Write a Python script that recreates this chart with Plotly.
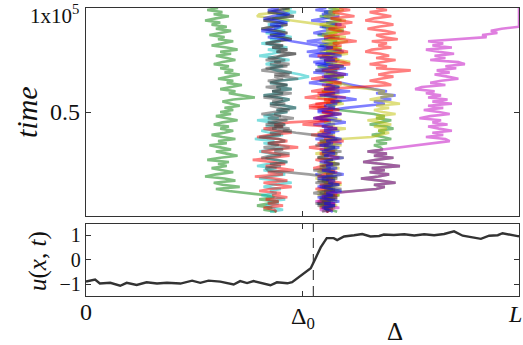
import plotly.graph_objects as go

# ---------------------------------------------------------------------------
# Walker paths.  Each walker is a list of segments (t_start, positions):
# positions are in percent of L, sampled every 1 time unit (x10^3) going
# down from t_start.  Consecutive segments are joined by the long jumps.
# ---------------------------------------------------------------------------
G1_WALK = [30.5, 28.0, 31.5, 29.5, 33.0, 30.0, 27.5, 31.0, 29.0, 32.5,
           30.0, 33.5, 31.0, 28.5, 32.0, 30.5, 34.0, 31.5, 29.0, 32.5,
           35.0, 31.0, 33.5, 30.0, 32.5, 34.5, 31.5, 29.5, 33.0, 31.0,
           34.0, 32.0, 35.5, 33.0, 30.5, 34.0, 32.5, 36.0, 33.5, 31.0,
           34.5, 33.0, 36.0, 39.0, 34.0, 31.5, 33.5, 35.5, 32.0, 34.0,
           31.0, 33.5, 30.0, 32.5, 35.0, 31.5, 29.5, 33.0, 31.0, 34.0,
           32.0, 29.0, 31.5, 34.5, 30.5, 32.5, 28.5, 31.0, 33.5, 30.0,
           32.5, 35.0, 31.0, 28.0, 33.0, 30.5, 32.5, 29.0, 31.5, 34.0,
           30.0, 27.5, 32.0, 34.5, 29.5, 31.5, 35.5, 30.0, 33.0]
G1_JOIN = [41.5, 43.5, 40.0, 44.5, 42.0, 39.5, 43.0, 41.0, 44.0]

B1_LEFT = [44.5, 42.0, 45.5, 47.0, 43.0, 41.0, 44.5, 46.5, 42.5, 45.0,
           43.5, 40.5, 44.0, 46.0, 42.0, 45.5, 47.5]
B1_MID = [53.5, 57.0, 55.0, 51.0, 56.5, 59.0, 54.0, 57.5, 52.5, 55.5,
          59.5, 56.0, 53.0, 57.5, 60.5, 55.0, 58.0, 54.5, 51.5, 56.0,
          58.5, 55.0, 61.0, 57.0, 54.0, 59.5, 62.5, 56.5, 58.0, 55.0,
          57.5, 53.5, 56.0, 59.0, 55.5, 52.5, 57.0, 60.0, 56.0, 54.5,
          58.0, 55.0, 57.5, 53.5, 56.5, 59.0, 55.5, 57.0, 54.0, 58.5,
          56.0, 54.5, 57.5, 55.0, 59.5, 56.5, 54.0, 57.0, 55.5, 58.0,
          54.5, 57.0, 59.5, 55.5, 53.5, 57.5, 56.0, 58.5, 54.0, 56.5,
          59.0, 55.5, 57.0, 53.5, 56.0, 58.5, 55.0, 57.5, 54.5, 56.0,
          57.0]

R1_RIGHT = [67.0, 69.5, 65.5, 68.0, 70.5, 66.5, 64.5, 68.5, 71.0, 67.5,
            65.0, 69.0, 71.5, 67.0, 68.5, 72.0, 66.0, 69.5, 67.5, 70.5,
            66.0, 64.5, 68.0, 70.0, 67.0, 71.5, 68.5, 65.5, 69.5, 67.0,
            75.0, 70.0, 67.5, 71.0, 68.0, 65.5, 69.0, 70.5]
R1_MID = [55.0, 52.0, 57.5, 54.0, 50.5, 56.0, 58.5, 53.0, 55.5, 51.5,
          57.0, 54.5, 59.0, 55.0, 52.5, 56.5, 53.5, 50.0, 55.5, 58.0,
          54.0, 56.5, 52.0, 57.5, 55.0, 59.5, 53.5, 56.0, 51.5, 55.0,
          57.5, 54.0, 56.5, 58.5, 53.0, 55.5, 57.0, 54.5, 52.5, 56.0,
          58.0, 55.0, 53.5, 57.0, 55.5, 59.0, 54.0, 56.5, 53.0, 57.5,
          55.0, 58.0, 54.5, 56.0, 53.5, 57.5, 55.5, 54.0, 57.0, 55.5]

K1_LEFT = [47.0, 44.5, 42.0, 45.5, 48.0, 43.5, 41.0, 44.5, 46.5, 43.0,
           40.5, 44.0, 46.5, 42.5, 45.0, 47.5, 44.0, 41.5, 45.5, 43.0,
           46.5, 44.0, 48.5, 45.0, 42.0, 46.0, 43.5, 47.0, 44.5, 41.5,
           45.0, 47.5, 43.5, 46.0, 49.0, 44.5, 42.5, 46.5, 44.0, 47.5,
           43.0, 45.5, 41.0, 44.5, 47.0, 45.0, 42.5, 46.0, 48.5, 44.0,
           46.5, 43.5, 45.0, 48.0, 44.5, 42.0, 46.0, 43.5, 47.0, 45.5,
           48.5]
K1_MID = [52.5, 55.5, 58.0, 54.0, 56.5, 53.0, 57.5, 55.0, 59.0, 54.5,
          56.0, 53.5, 57.0, 55.0, 58.5, 54.0, 56.5, 52.5, 57.5, 55.5,
          58.0, 54.5, 56.0, 53.0, 57.0, 55.0, 59.0, 56.0, 54.0, 57.5,
          55.0, 58.0, 54.5, 56.5, 53.5, 57.0, 55.5, 56.0]

C1_TOP = [47.5, 45.5, 48.5, 44.0, 46.5, 43.0, 47.0, 44.5, 42.0, 45.5,
          43.5, 46.0, 41.5, 44.5, 47.5, 42.5, 45.0, 40.5, 44.0, 46.5,
          42.0, 45.0, 43.0, 40.0, 44.5, 47.0, 43.0, 41.5, 45.5, 42.5,
          44.0, 47.0, 49.5, 51.5]
C1_BOTTOM = [43.5, 41.0, 44.5, 39.5, 43.0, 46.0, 41.5, 44.0, 40.5, 42.5,
             45.5, 42.0, 39.0, 43.5, 41.0, 44.5, 47.0, 42.5, 40.0, 43.0,
             45.0, 41.5, 43.5, 46.5, 42.0, 39.5, 44.0, 41.0, 43.5, 46.0,
             42.5, 40.0, 44.5, 47.5, 43.0, 41.0, 45.0, 42.5, 44.0, 40.5,
             43.5, 46.0, 42.0, 44.5, 41.5, 43.0, 45.5, 42.5]
# cyan and dark-grey walkers travel together for t = 66 ... 50
C1 = C1_TOP + K1_LEFT[34:51] + C1_BOTTOM

K2_LEFT = [44.0, 41.5, 45.0, 42.5, 46.5, 43.0, 40.5, 44.5, 47.0, 43.5,
           45.5, 42.0, 44.0, 46.5, 41.5, 45.0, 43.0, 47.5, 44.0, 41.0,
           45.5, 43.0, 46.0, 42.5, 44.5, 47.0, 43.5, 40.5, 45.0, 42.0,
           46.5, 44.0, 41.5, 45.5, 43.0, 47.5, 42.5, 45.0, 40.0, 44.5,
           46.0, 42.0, 44.5, 41.0, 45.5, 43.5, 47.0, 42.5, 40.5, 44.0,
           46.5, 42.5, 45.0, 41.5, 42.0]
K2_MID = [51.5, 55.0, 57.5, 53.5, 56.0, 58.5, 54.5, 57.0, 55.0, 52.5,
          56.5, 58.0, 54.0, 56.5, 53.0, 57.5, 55.0, 56.0, 54.5]

M1_EDGE = [100.0] * 10
M1_TOP = [96.0, 93.5, 95.0, 91.5, 92.5]
M1_WALK = [79.0, 82.5, 80.0, 84.5, 78.5, 81.5, 85.0, 80.5, 83.0, 79.5,
           86.0, 87.5, 83.0, 85.5, 81.0, 84.0, 80.5, 83.5, 86.0, 82.0,
           79.5, 83.0, 77.5, 76.0, 80.5, 78.5, 82.0, 79.0, 83.5, 80.0,
           84.5, 79.0, 82.5, 78.0, 81.5, 84.0, 79.5, 77.0, 82.0, 80.0,
           83.5, 79.0, 81.5, 84.5, 80.0, 82.5, 78.5, 83.0, 84.0]
# magenta and second green walkers move together for t = 32 ... 13
PM_SHARED = [68.5, 65.0, 69.5, 66.5, 71.0, 67.0, 64.0, 68.5, 72.5, 66.0,
             69.0, 65.5, 70.0, 67.5, 63.5, 68.0, 71.5, 66.5, 69.0, 67.0]
M1_MID = [57.0, 54.5, 58.0, 55.5, 53.0, 57.5, 55.0, 58.5, 54.0, 56.0]

Y1_TOP = [46.0, 47.0, 45.5, 40.0, 39.5, 44.0, 47.5]
Y1_MID = [54.5, 57.0, 59.5, 55.5, 58.0, 56.0, 60.0, 57.0, 54.5, 58.5,
          56.0, 59.0, 55.0, 57.5, 60.5, 56.5, 54.0, 58.0, 55.5, 57.0,
          59.5, 55.5, 53.0, 57.5, 55.0, 58.5, 56.0, 54.0, 57.5, 59.0,
          55.0, 57.5, 54.5, 58.5, 56.0, 53.5, 57.0, 55.0, 59.5, 56.0,
          53.5, 57.0, 55.5, 58.5, 54.0, 56.5, 59.0, 55.0, 57.5, 54.5,
          60.0, 56.0, 53.5, 57.5, 55.5, 58.5, 54.0, 56.5, 59.0, 55.0,
          57.5, 54.5, 58.0, 56.0, 53.5, 57.0, 55.5, 58.5, 56.0, 54.0,
          57.0, 55.0, 59.0, 56.5, 53.0, 57.5, 55.0, 58.0, 54.5, 56.5,
          58.5, 55.5, 53.5, 57.0, 55.0, 58.0, 56.5, 54.0, 57.5, 55.5,
          56.0]

B2_MID = [55.5, 53.0, 57.0, 54.5, 58.5, 55.0, 52.0, 56.5, 59.0, 54.0,
          57.5, 55.0, 52.5, 56.0, 58.5, 54.5, 51.0, 55.5, 58.0, 53.5,
          56.5, 59.5, 54.0, 51.5, 57.0, 55.0, 58.0, 53.0, 56.0, 60.0,
          55.5, 52.5, 57.5, 54.5, 58.5, 56.0, 59.0, 61.5]
B2_RIGHT = [66.5, 69.5, 67.0, 71.5, 68.0, 70.5, 66.5, 69.0]
B2_BACK = [60.0, 56.5, 53.5, 57.5, 55.0, 58.0, 54.0, 56.5, 52.5, 57.0,
           55.0, 58.5, 54.5, 57.0, 55.5, 53.0, 56.5, 59.0, 55.0, 57.5,
           54.0, 56.5, 58.0, 55.0, 53.5, 57.0, 55.5, 58.5, 54.5, 56.0,
           57.5, 55.0, 53.0, 56.5, 58.0, 54.5, 57.0, 55.5, 53.5, 57.5,
           55.0, 58.0, 56.0, 54.0, 57.5, 55.5, 53.5, 57.0, 55.0, 56.5,
           55.5]

Y2_MID = [57.0, 59.5, 56.0, 58.5, 55.0, 57.5, 60.0, 56.5, 54.0, 58.0,
          55.5, 59.0, 57.0, 54.5, 58.5, 56.0, 60.5, 57.5, 55.0, 58.0,
          56.5, 54.0, 59.0, 57.0, 55.5, 58.5, 61.0, 56.5, 59.5, 57.0,
          54.5, 58.0, 56.0, 59.5, 57.0, 55.5, 58.5, 60.0, 61.5]
Y2_RIGHT = [66.0, 69.0, 67.5, 71.0, 68.0, 65.5, 69.5, 72.5, 67.0, 70.0,
            66.5, 68.5, 71.5, 67.0, 69.0, 65.0, 68.0, 70.5, 66.5, 69.5,
            67.5, 70.0, 68.0, 66.0]
Y2_BACK = [59.0, 56.5, 54.0, 57.5, 55.0, 58.0, 55.5, 53.0, 57.0, 59.5,
           55.5, 57.5, 54.0, 56.5, 58.5, 55.0, 53.5, 57.0, 55.5, 58.0,
           54.5, 56.5, 59.0, 55.0, 57.5, 53.5, 56.0, 58.5, 55.5, 54.0,
           57.0, 55.0, 58.0, 54.5, 56.5, 55.5]

G2_MID = [56.0, 58.5, 55.0, 57.5, 54.0, 56.5, 59.0, 55.5, 58.0, 54.5,
          57.0, 59.5, 56.0, 53.5, 57.5, 55.0, 58.0, 56.5, 54.0, 57.0,
          59.0, 55.5, 57.5, 54.5, 56.5, 58.5, 55.0, 57.0, 53.5, 56.0,
          58.0, 55.5, 57.5, 59.5, 56.0, 54.0, 57.0, 55.5, 58.5, 56.5,
          54.5, 57.5, 55.0, 58.0, 56.0, 59.0, 55.5, 57.5, 56.0, 58.5]
G2_RIGHT = [66.5, 69.0, 67.0, 70.5, 68.0, 65.5, 69.5, 71.0, 67.5, 69.0,
            66.0, 68.5, 70.5, 67.0, 69.5, 66.5, 68.0]
G2_BACK = [56.0, 58.5, 54.5, 57.0, 55.5, 53.5, 57.5, 55.0, 56.5, 58.0]

R2_MID = [58.5, 61.0, 57.0, 59.5, 62.0, 56.5, 59.0, 61.5, 57.5, 60.0,
          56.0, 58.5, 61.0, 57.5, 55.0, 59.5, 62.5, 57.0, 59.0, 55.5,
          58.0, 60.5, 56.5, 53.5, 58.0, 55.0, 59.5, 61.0, 56.0, 58.5,
          54.5, 57.5, 60.0, 55.5, 52.0, 57.0, 59.0, 54.5, 57.5, 55.0,
          58.5, 53.5, 56.5, 60.0, 55.0, 57.5, 54.0, 51.5, 56.0, 58.5,
          54.5, 57.0, 55.5, 53.0, 56.0]
R2_LEFT = [47.0, 43.5, 45.5, 41.0, 44.0, 47.5, 42.5, 39.5, 44.5, 46.5,
           42.0, 45.0, 49.0, 43.5, 40.5, 44.0, 47.0, 42.5, 38.5, 43.0,
           46.0, 41.5, 44.5, 48.0, 42.0, 45.5, 39.0, 43.5, 46.5, 41.0,
           44.0, 47.5, 42.5, 40.0, 45.0, 43.0, 46.5, 41.5, 44.5, 42.0,
           45.5, 41.0, 43.5, 44.0]

# MATLAB-style colour order, drawn half transparent
COL_B = "rgba(0,0,255,0.5)"
COL_G = "rgba(0,128,0,0.5)"
COL_R = "rgba(255,0,0,0.5)"
COL_C = "rgba(0,191,191,0.5)"
COL_M = "rgba(191,0,191,0.5)"
COL_Y = "rgba(191,191,0,0.5)"
COL_K = "rgba(64,64,64,0.5)"

# drawing order: later walkers are painted on top
WALKERS = [
    (COL_G, [(100, G1_WALK), (10, G1_JOIN)]),
    (COL_G, [(100, G2_MID), (49, G2_RIGHT), (32, PM_SHARED), (11, G2_BACK)]),
    (COL_B, [(100, B2_MID), (61, B2_RIGHT), (52, B2_BACK)]),
    (COL_C, [(100, C1)]),
    (COL_Y, [(100, Y1_TOP), (92, Y1_MID)]),
    (COL_Y, [(100, Y2_MID), (61, Y2_RIGHT), (37, Y2_BACK)]),
    (COL_R, [(100, R1_RIGHT), (61, R1_MID)]),
    (COL_R, [(100, R2_MID), (45, R2_LEFT)]),
    (COL_M, [(100, M1_EDGE), (90, M1_TOP), (84, M1_WALK),
             (32, PM_SHARED), (11, M1_MID)]),
    (COL_K, [(100, K1_LEFT), (39, K1_MID)]),
    (COL_K, [(100, K1_LEFT[:24]), (76, K2_LEFT), (20, K2_MID)]),
    (COL_B, [(100, B1_LEFT), (82, B1_MID)]),
]

# ---------------------------------------------------------------------------
# Field profile u(x, t) in the lower panel
# ---------------------------------------------------------------------------
U_X = [0.0, 2.1, 3.2, 5.6, 7.9, 9.4, 11.7, 14.0, 16.4, 18.7,
       21.8, 24.5, 26.4, 28.3, 31.0, 34.1, 35.6, 37.2, 38.7, 41.0,
       42.6, 44.1, 46.5, 47.6, 49.5, 51.9, 53.0, 54.2, 55.6, 57.2,
       58.0, 59.6, 61.9, 63.8, 65.7, 67.7, 68.8, 71.1, 73.5, 75.8,
       78.1, 80.4, 82.7, 85.0, 87.0, 88.9, 91.2, 93.1, 95.1, 96.2,
       98.1, 100.0]
U_VAL = [-0.90, -0.82, -0.98, -0.95, -1.07, -0.95, -1.04, -0.93, -0.98, -0.95,
         -0.98, -0.86, -0.95, -0.86, -0.90, -1.02, -0.88, -0.96, -0.88, -0.98,
         -1.05, -0.93, -0.97, -0.92, -0.68, -0.35, 0.05, 0.50, 0.88, 0.88,
         0.80, 0.95, 1.00, 1.05, 0.95, 0.97, 1.03, 1.01, 1.04, 0.99,
         1.04, 1.00, 1.05, 1.16, 0.98, 0.92, 0.85, 0.98, 1.00, 1.08,
         1.00, 0.95]

DELTA0 = 50.0
FRONT = 52.5

X_TICKS = [0, DELTA0, 100]
X_TICKTEXT = ["0", "Δ<sub>0</sub>", "<i>L</i>"]
X_LABEL_POS = [(0, 312), (DELTA0, 318), (99.0, 314)]
U_TICKS = [-1, 0, 1]
U_TICKTEXT = ["−1", "0", "1"]

SERIF = "Liberation Serif"
AX = "#333333"
W, H = 523, 345

fig = go.Figure()

for col, segments in WALKERS:
    xs, ts = [], []
    for t0, vals in segments:
        xs.extend(vals)
        ts.extend(t0 - i for i in range(len(vals)))
    fig.add_trace(go.Scatter(x=xs, y=ts, mode="lines",
                             line=dict(color=col, width=2.6, simplify=False),
                             xaxis="x", yaxis="y", hoverinfo="skip"))

fig.add_trace(go.Scatter(x=U_X, y=U_VAL, mode="lines",
                         line=dict(color="#333333", width=2.4),
                         xaxis="x2", yaxis="y2", hoverinfo="skip"))

x_dom = [86 / W, 519 / W]
common = dict(showline=True, linecolor=AX, linewidth=1.3, mirror="ticks",
              ticks="inside", ticklen=5, tickcolor=AX, tickwidth=1.2,
              showgrid=False, zeroline=False)

fig.update_layout(
    width=W, height=H,
    margin=dict(l=0, r=0, t=0, b=0),
    paper_bgcolor="white", plot_bgcolor="white",
    showlegend=False,
    font=dict(family=SERIF, color="#111111", size=20),
    xaxis=dict(domain=x_dom, range=[0, 100], anchor="y",
               tickvals=X_TICKS, showticklabels=False, **common),
    yaxis=dict(domain=[1 - 216 / H, 1 - 8 / H], range=[0, 100], anchor="x",
               tickvals=[50], ticktext=["0.5"],
               tickfont=dict(family=SERIF, size=24), **common),
    xaxis2=dict(domain=x_dom, range=[0, 100], anchor="y2",
                tickvals=X_TICKS, showticklabels=False, **common),
    yaxis2=dict(domain=[1 - 296 / H, 1 - 223.5 / H], range=[-1.49, 1.48],
                anchor="x2", tickvals=U_TICKS, ticktext=U_TICKTEXT,
                tickfont=dict(family=SERIF, size=20), **common),
)

fig.add_shape(type="line", xref="x2", yref="y2 domain",
              x0=FRONT, x1=FRONT, y0=0, y1=1,
              line=dict(color=AX, width=1.1, dash="10px,6px"))

# tick labels of the position axis
for txt, (xv, ypx) in zip(X_TICKTEXT, X_LABEL_POS):
    fig.add_annotation(text=txt, xref="x2", yref="paper",
                       x=xv, y=1 - ypx / H, xanchor="center", yanchor="middle",
                       showarrow=False, font=dict(family=SERIF, size=24))

fig.add_annotation(text="1x10<sup>5</sup>", xref="paper", yref="paper",
                   x=81 / W, y=1 - 15 / H, xanchor="right", yanchor="middle",
                   showarrow=False, font=dict(family=SERIF, size=21))
fig.add_annotation(text="<i>time</i>", xref="paper", yref="paper",
                   x=27 / W, y=1 - 112 / H, textangle=-90,
                   xanchor="center", yanchor="middle",
                   showarrow=False, font=dict(family=SERIF, size=30))
fig.add_annotation(text="<i>u</i>(<i>x</i>, <i>t</i>)", xref="paper", yref="paper",
                   x=38 / W, y=1 - 261 / H, textangle=-90,
                   xanchor="center", yanchor="middle",
                   showarrow=False, font=dict(family=SERIF, size=25))
fig.add_annotation(text="Δ", xref="paper", yref="paper",
                   x=395 / W, y=1 - 331 / H,
                   xanchor="center", yanchor="middle",
                   showarrow=False, font=dict(family=SERIF, size=25))

fig.write_html("out.html")
